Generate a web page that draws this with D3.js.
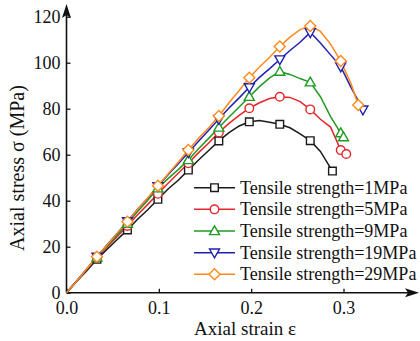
<!DOCTYPE html>
<html>
<head>
<meta charset="utf-8">
<script src="https://cdn.jsdelivr.net/npm/d3@7"></script>
<style>
  body { margin: 0; background: #fff; }
  text { font-family: "Liberation Serif", "Times New Roman", "DejaVu Serif", serif; fill: #111; }
</style>
</head>
<body>
<div id="chart"></div>
<script>
// strain grid shared by all curves (step 0.011, markers every third point)
const strainGrid = [0, 0.011, 0.022, 0.033, 0.044, 0.055, 0.066, 0.077, 0.088, 0.099,
  0.110, 0.121, 0.132, 0.143, 0.154, 0.165, 0.176, 0.187, 0.198, 0.209,
  0.220, 0.231, 0.242, 0.253, 0.264, 0.275, 0.286, 0.297, 0.308]

const stress1 = [0, 4.9, 9.6, 14.5, 18.9, 23.1, 27.3, 31.9, 36.1, 40.6,
  45.1, 48.9, 53.3, 57.7, 61.8, 66.0, 69.6, 72.5, 74.3, 74.9,
  74.1, 73.2, 71.7, 69.1, 66.1, 61.4]
const stress5 = [0, 5.1, 10.1, 15.2, 19.9, 24.4, 29.0, 33.9, 38.4, 43.0,
  47.6, 51.9, 56.3, 60.9, 65.1, 69.7, 73.6, 77.1, 80.2, 82.6,
  84.4, 85.2, 84.9, 83.1, 79.7, 75.4, 72.0, 62.0]
const stress9 = [0, 5.0, 10.3, 15.3, 20.4, 25.1, 30.0, 35.3, 40.2, 45.4,
  49.6, 53.5, 57.7, 62.6, 67.1, 71.8, 76.4, 80.7, 85.2, 89.6,
  93.4, 96.1, 94.9, 93.1, 91.5, 85.2, 76.6, 69.4]
const stress19 = [0, 5.1, 10.3, 15.6, 20.9, 25.8, 31.0, 36.3, 41.1, 46.3,
  51.3, 56.1, 61.0, 65.9, 70.6, 75.5, 80.3, 84.7, 89.3, 93.6,
  97.4, 101.4, 105.3, 108.9, 113.2, 108.6, 103.4, 98.3, 89.4]
const stress29 = [0, 5.0, 10.4, 15.6, 20.7, 25.9, 30.9, 36.3, 41.2, 46.5,
  51.6, 56.7, 62.0, 67.1, 71.7, 76.8, 82.6, 87.9, 93.5, 98.1,
  102.4, 107.0, 111.1, 114.4, 116.0, 113.6, 108.1, 100.7, 91.0]

// last (end) point of each curve
const endStrain = [0.288, 0.303, 0.300, 0.321, 0.316]
const endStress = [52.9, 60.3, 67.6, 79.6, 81.6]

const seriesNames = ["Tensile strength=1MPa", "Tensile strength=5MPa", "Tensile strength=9MPa",
  "Tensile strength=19MPa", "Tensile strength=29MPa"]
const seriesColors = ["#1a1a1a", "#e3262b", "#1f9a22", "#2020b0", "#ff8a1c"]
const seriesShapes = ["square", "circle", "triangle", "triangleDown", "diamond"]
const stressSets = [stress1, stress5, stress9, stress19, stress29]

const xTicks = [0.0, 0.1, 0.2, 0.3]
const yTicks = [0, 20, 40, 60, 80, 100, 120]

/** CONSTANTS */
const width = 420
const height = 341
const margins = { top: 16.7, bottom: 48.3, left: 66.5, right: 76.5 }
const serif = "'Liberation Serif', 'Times New Roman', serif"

const xScale = d3.scaleLinear()
  .domain([0, 0.3])
  .range([margins.left, width - margins.right])

const yScale = d3.scaleLinear()
  .domain([0, 120])
  .range([height - margins.bottom, margins.top])

const series = stressSets.map((s, i) => ({
  name: seriesNames[i],
  color: seriesColors[i],
  shape: seriesShapes[i],
  points: s.map((v, j) => ({ x: strainGrid[j], y: v }))
    .concat([{ x: endStrain[i], y: endStress[i] }])
}))

const svg = d3.select("#chart")
  .append("svg")
  .attr("width", width)
  .attr("height", height)

// axes
const x0 = xScale(0), y0 = yScale(0)

svg.append("g")
  .attr("transform", `translate(0,${y0})`)
  .attr("font-family", serif)
  .call(d3.axisBottom(xScale).tickValues(xTicks).tickSize(-4).tickPadding(9).tickFormat(d3.format(".1f")))
  .attr("font-family", serif)
  .attr("font-size", 18)
  .call(g => g.select(".domain").remove())
  .call(g => g.selectAll("line").attr("stroke", "#111").attr("stroke-width", 1.3))
  .call(g => g.selectAll("text").attr("fill", "#111"))

svg.append("g")
  .attr("transform", `translate(${x0},0)`)
  .call(d3.axisLeft(yScale).tickValues(yTicks).tickSize(-4).tickPadding(6))
  .attr("font-family", serif)
  .attr("font-size", 18)
  .call(g => g.select(".domain").remove())
  .call(g => g.selectAll("line").attr("stroke", "#111").attr("stroke-width", 1.3))
  .call(g => g.selectAll("text").attr("fill", "#111"))

svg.append("line")
  .attr("x1", x0).attr("y1", y0).attr("x2", 410).attr("y2", y0)
  .attr("stroke", "#111").attr("stroke-width", 1.6)
svg.append("line")
  .attr("x1", x0).attr("y1", y0).attr("x2", x0).attr("y2", 14)
  .attr("stroke", "#111").attr("stroke-width", 1.6)

// arrow heads
svg.append("path")
  .attr("d", `M${x0},4 L${x0 - 4.5},18 L${x0},15 L${x0 + 4.5},18 Z`)
  .attr("fill", "#111")
svg.append("path")
  .attr("d", `M419,${y0} L405,${y0 - 4.5} L408,${y0} L405,${y0 + 4.5} Z`)
  .attr("fill", "#111")

// axis titles
svg.append("text")
  .attr("x", 245)
  .attr("y", 335)
  .attr("text-anchor", "middle")
  .attr("font-size", 19)
  .text("Axial strain ε")

svg.append("text")
  .attr("transform", "translate(24,168) rotate(-90)")
  .attr("text-anchor", "middle")
  .attr("font-size", 20)
  .text("Axial stress σ (MPa)")

// marker shape paths centred on 0,0
function markerPath(shape) {
  if (shape === "square") return "M-3.8,-3.8H3.8V3.8H-3.8Z"
  if (shape === "circle") return "M4.3,0A4.3,4.3 0 1,1 -4.3,0A4.3,4.3 0 1,1 4.3,0Z"
  if (shape === "triangle") return "M0,-5.2L5,3.6H-5Z"
  if (shape === "triangleDown") return "M0,5.2L5,-3.6H-5Z"
  return "M0,-5.5L5.5,0L0,5.5L-5.5,0Z"
}

const line = d3.line()
  .x(d => xScale(d.x))
  .y(d => yScale(d.y))

const plot = svg.append("g")

plot.selectAll("path.curve")
  .data(series)
  .join("path")
  .attr("class", "curve")
  .attr("d", d => line(d.points))
  .attr("fill", "none")
  .attr("stroke", d => d.color)
  .attr("stroke-width", 1.5)

series.forEach(s => {
  const marks = s.points.filter((p, j) => (j > 0 && j % 3 === 0) || j === s.points.length - 1)
  plot.selectAll(null)
    .data(marks)
    .join("path")
    .attr("transform", d => `translate(${xScale(d.x)},${yScale(d.y)})`)
    .attr("d", markerPath(s.shape))
    .attr("fill", "#fff")
    .attr("stroke", s.color)
    .attr("stroke-width", 1.4)
})

// legend
const legend = svg.append("g")
  .selectAll("g")
  .data(series)
  .join("g")
  .attr("transform", (d, i) => `translate(194,${187.7 + i * 21.65})`)

legend.append("rect")
  .attr("x", 0).attr("y", -9).attr("width", 226).attr("height", 19)
  .attr("fill", "#fff")

legend.append("line")
  .attr("x1", 0).attr("x2", 41)
  .attr("stroke", d => d.color)
  .attr("stroke-width", 1.5)

legend.append("path")
  .attr("transform", "translate(20.5,0)")
  .attr("d", d => markerPath(d.shape))
  .attr("fill", "#fff")
  .attr("stroke", d => d.color)
  .attr("stroke-width", 1.4)

legend.append("text")
  .attr("x", 46)
  .attr("dy", "0.33em")
  .attr("font-size", 18)
  .text(d => d.name)
</script>
</body>
</html>
